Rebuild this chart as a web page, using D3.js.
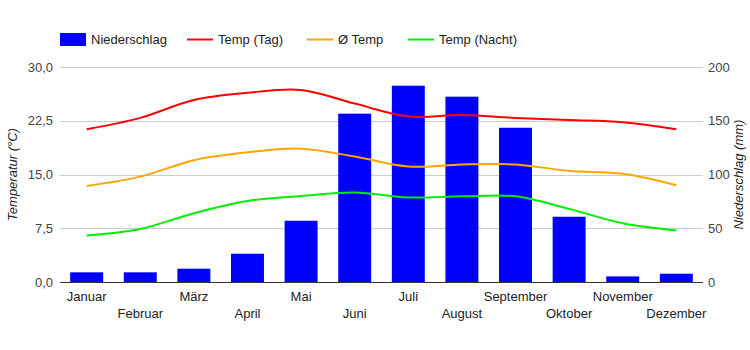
<!DOCTYPE html>
<html>
<head>
<meta charset="utf-8">
<script src="https://cdn.jsdelivr.net/npm/d3@7"></script>
<style>
  body { margin: 0; background: #fff; }
  text { font-family: "Liberation Sans", Arial, sans-serif; }
</style>
</head>
<body>
<div id="chart"></div>
<script>
// Data
const months = ["Januar", "Februar", "März", "April", "Mai", "Juni", "Juli", "August", "September", "Oktober", "November", "Dezember"]
const niederschlag = [9, 9, 12.4, 26.3, 57, 156.6, 182.6, 172.4, 143.5, 60.7, 5.2, 7.7]
const tempTag = [21.3, 22.9, 25.4, 26.4, 26.8, 24.9, 23.1, 23.3, 22.9, 22.6, 22.3, 21.3]
const tempMittel = [13.4, 14.7, 17.0, 18.1, 18.6, 17.5, 16.1, 16.4, 16.4, 15.5, 15.1, 13.5]
const tempNacht = [6.5, 7.4, 9.6, 11.3, 12.0, 12.5, 11.8, 11.95, 11.95, 10.2, 8.2, 7.2]
const tempTicks = [0, 7.5, 15, 22.5, 30]
const rainTicks = [0, 50, 100, 150, 200]

const series = [
    { name: "Temp (Tag)", values: tempTag, color: "#ff0000" },
    { name: "Ø Temp", values: tempMittel, color: "#ffa500" },
    { name: "Temp (Nacht)", values: tempNacht, color: "#00ee00" },
]

// Dimensions
const dimensions = {
    width: 750,
    height: 350,
    margin: { top: 67, right: 47, bottom: 68, left: 60 },
}
dimensions.boundedWidth = dimensions.width - dimensions.margin.left - dimensions.margin.right
dimensions.boundedHeight = dimensions.height - dimensions.margin.top - dimensions.margin.bottom

const svg = d3.select("#chart")
    .append("svg")
        .attr("width", dimensions.width)
        .attr("height", dimensions.height)

const bounds = svg.append("g")
    .attr("transform", `translate(${dimensions.margin.left}, ${dimensions.margin.top})`)

// Scales
const xScale = d3.scaleBand()
    .domain(months)
    .range([0, dimensions.boundedWidth])
    .paddingInner(0.385)
    .paddingOuter(0.19)

const xCenter = d => xScale(d) + xScale.bandwidth() / 2

const yTemp = d3.scaleLinear()
    .domain([0, 30])
    .range([dimensions.boundedHeight, 0])

const yRain = d3.scaleLinear()
    .domain([0, 200])
    .range([dimensions.boundedHeight, 0])

// Gridlines
bounds.append("g")
    .selectAll("line")
    .data(tempTicks.slice(1))
    .join("line")
        .attr("x1", 0)
        .attr("x2", dimensions.boundedWidth)
        .attr("y1", d => Math.round(yTemp(d)) + 0.5)
        .attr("y2", d => Math.round(yTemp(d)) + 0.5)
        .attr("stroke", "#cccccc")

// Bars
bounds.append("g")
    .selectAll("rect")
    .data(months)
    .join("rect")
        .attr("x", d => xScale(d))
        .attr("width", xScale.bandwidth())
        .attr("y", (d, i) => yRain(niederschlag[i]))
        .attr("height", (d, i) => dimensions.boundedHeight - yRain(niederschlag[i]))
        .attr("fill", "#0000ff")

// Lines
const lineGenerator = d3.line()
    .x((d, i) => xCenter(months[i]))
    .y(d => yTemp(d))
    .curve(d3.curveCatmullRom.alpha(0.5))

bounds.append("g")
    .selectAll("path")
    .data(series)
    .join("path")
        .attr("d", d => lineGenerator(d.values))
        .attr("fill", "none")
        .attr("stroke", d => d.color)
        .attr("stroke-width", 2)

// Baseline
bounds.append("line")
    .attr("x1", 0)
    .attr("x2", dimensions.boundedWidth)
    .attr("y1", dimensions.boundedHeight + 0.5)
    .attr("y2", dimensions.boundedHeight + 0.5)
    .attr("stroke", "#333333")

// Axes
const leftAxis = bounds.append("g")
    .call(d3.axisLeft(yTemp)
        .tickValues(tempTicks)
        .tickSize(0)
        .tickPadding(7)
        .tickFormat(d => d3.format(".1f")(d).replace(".", ",")))
leftAxis.select(".domain").remove()

const rightAxis = bounds.append("g")
    .attr("transform", `translate(${dimensions.boundedWidth}, 0)`)
    .call(d3.axisRight(yRain)
        .tickValues(rainTicks)
        .tickSize(0)
        .tickPadding(5))
rightAxis.select(".domain").remove()

const bottomAxis = bounds.append("g")
    .attr("transform", `translate(0, ${dimensions.boundedHeight})`)
    .call(d3.axisBottom(xScale).tickSize(0).tickPadding(0))
bottomAxis.select(".domain").remove()
bottomAxis.selectAll("text")
    .attr("y", (d, i) => i % 2 == 0 ? 19 : 36)
    .attr("dy", 0)

svg.selectAll(".tick text")
    .attr("font-family", "Liberation Sans, Arial, sans-serif")
    .attr("font-size", 13)
    .attr("fill", "#222222")
leftAxis.selectAll("text").attr("fill", "#444444")
rightAxis.selectAll("text").attr("fill", "#444444")

// Axis titles
svg.append("text")
    .attr("transform", `translate(17, ${dimensions.margin.top + dimensions.boundedHeight / 2}) rotate(-90)`)
    .attr("text-anchor", "middle")
    .attr("font-size", 13)
    .attr("font-style", "italic")
    .attr("fill", "#222222")
    .text("Temperatur (°C)")

svg.append("text")
    .attr("transform", `translate(743, ${dimensions.margin.top + dimensions.boundedHeight / 2}) rotate(-90)`)
    .attr("text-anchor", "middle")
    .attr("font-size", 13)
    .attr("font-style", "italic")
    .attr("fill", "#222222")
    .text("Niederschlag (mm)")

// Legend
const legend = svg.append("g")
const legendItems = [
    { name: "Niederschlag", type: "rect", color: "#0000ff", x: 60 },
    { name: "Temp (Tag)", type: "line", color: "#ff0000", x: 187 },
    { name: "Ø Temp", type: "line", color: "#ffa500", x: 307 },
    { name: "Temp (Nacht)", type: "line", color: "#00ee00", x: 408 },
]
legendItems.forEach(item => {
    if (item.type == "rect") {
        legend.append("rect")
            .attr("x", item.x)
            .attr("y", 33)
            .attr("width", 26)
            .attr("height", 13)
            .attr("fill", item.color)
    } else {
        legend.append("line")
            .attr("x1", item.x)
            .attr("x2", item.x + 26)
            .attr("y1", 39.5)
            .attr("y2", 39.5)
            .attr("stroke", item.color)
            .attr("stroke-width", 2)
    }
    legend.append("text")
        .attr("x", item.x + 31)
        .attr("y", 44)
        .attr("font-size", 13)
        .attr("fill", "#222222")
        .text(item.name)
})
</script>
</body>
</html>
